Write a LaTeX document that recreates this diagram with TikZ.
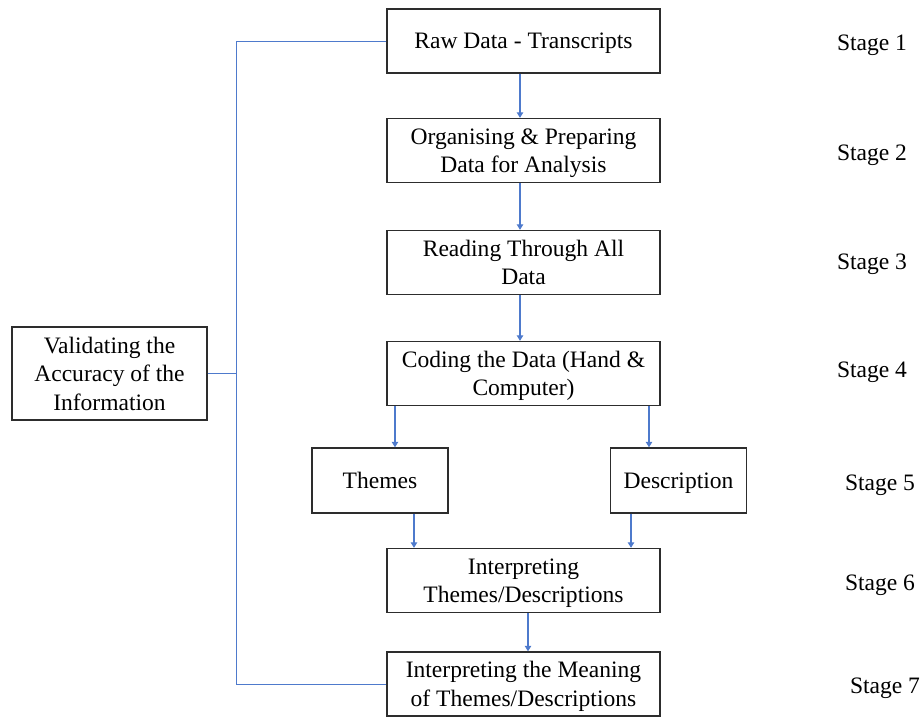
\documentclass[tikz,border=0pt]{standalone}
\usepackage{fontspec}
\setmainfont{Liberation Serif}
\usetikzlibrary{arrows.meta, positioning, calc}
\definecolor{cLine}{RGB}{78,122,204}
\definecolor{cFrame}{RGB}{45,45,45}
\tikzset{
	stagebox/.style ={rectangle, draw=cFrame, line width=0.8pt, minimum width=5.46cm, minimum height=1.28cm, align=center, inner sep=2pt, text depth=-1pt},
	branchbox/.style={rectangle, draw=cFrame, line width=0.8pt, minimum width=2.72cm, minimum height=1.3cm, align=center, inner sep=2pt, text depth=0pt},
	flowarrow/.style={-{Triangle[length=1.1mm, width=1.3mm]}, cLine, line width=0.6pt},
	feedback/.style ={cLine, line width=0.55pt},
	stagelabel/.style={inner sep=0pt},
}

\begin{document}
\begin{tikzpicture}[x=0.02cm, y=-0.02cm, font=\fontsize{13.4}{16.2}\selectfont]
	\useasboundingbox (0,0) rectangle (924,717);
	% main column
	\node[stagebox] (raw)     at (523.5,41)    {Raw Data - Transcripts};
	\node[stagebox] (prep)    at (523.5,150.5) {Organising \& Preparing\\Data for Analysis};
	\node[stagebox] (read)    at (523.5,262.5) {Reading Through All\\Data};
	\node[stagebox] (code)    at (523.5,373.5) {Coding the Data (Hand \&\\Computer)};
	\node[branchbox] (themes) at (380,480.5)   {Themes};
	\node[branchbox] (desc)   at (678.5,480.5) {Description};
	\node[stagebox] (interp)  at (523.5,580.5) {Interpreting\\Themes/Descriptions};
	\node[stagebox] (meaning) at (523.5,684)   {Interpreting the Meaning\\of Themes/Descriptions};
	% validation box
	\node[stagebox, minimum width=3.9cm, minimum height=1.86cm] (valid) at (109.5,373.5) {Validating the\\Accuracy of the\\Information};
	% stage labels
	\node[stagelabel] (s1) at (872,45)  {Stage 1};
	\node[stagelabel] (s2) at (872,155) {Stage 2};
	\node[stagelabel] (s3) at (872,264) {Stage 3};
	\node[stagelabel] (s4) at (872,372) {Stage 4};
	\node[stagelabel] (s5) at (880,485) {Stage 5};
	\node[stagelabel] (s6) at (880,585) {Stage 6};
	\node[stagelabel] (s7) at (885,688) {Stage 7};
	% arrows
	\draw[flowarrow] ([xshift=-0.07cm]raw.south) -- ([xshift=-0.07cm]prep.north);
	\draw[flowarrow] ([xshift=-0.07cm]prep.south) -- ([xshift=-0.07cm]read.north);
	\draw[flowarrow] ([xshift=-0.07cm]read.south) -- ([xshift=-0.07cm]code.north);
	\draw[flowarrow] ([xshift=0.3cm]themes.north |- code.south) -- ([xshift=0.3cm]themes.north);
	\draw[flowarrow] ([xshift=-0.59cm]desc.north |- code.south) -- ([xshift=-0.59cm]desc.north);
	\draw[flowarrow] ([xshift=0.68cm]themes.south) -- ([xshift=0.68cm]themes.south |- interp.north);
	\draw[flowarrow] ([xshift=-0.95cm]desc.south) -- ([xshift=-0.95cm]desc.south |- interp.north);
	\draw[flowarrow] ([xshift=0.09cm]interp.south) -- ([xshift=0.09cm]meaning.north);
	% feedback rail
	\coordinate (rail) at (236,0);
	\draw[feedback] (raw.west) -- (raw.west -| rail) -- (meaning.west -| rail) -- (meaning.west);
	\draw[feedback] (valid.east) -- (valid.east -| rail);
\end{tikzpicture}
\end{document}
